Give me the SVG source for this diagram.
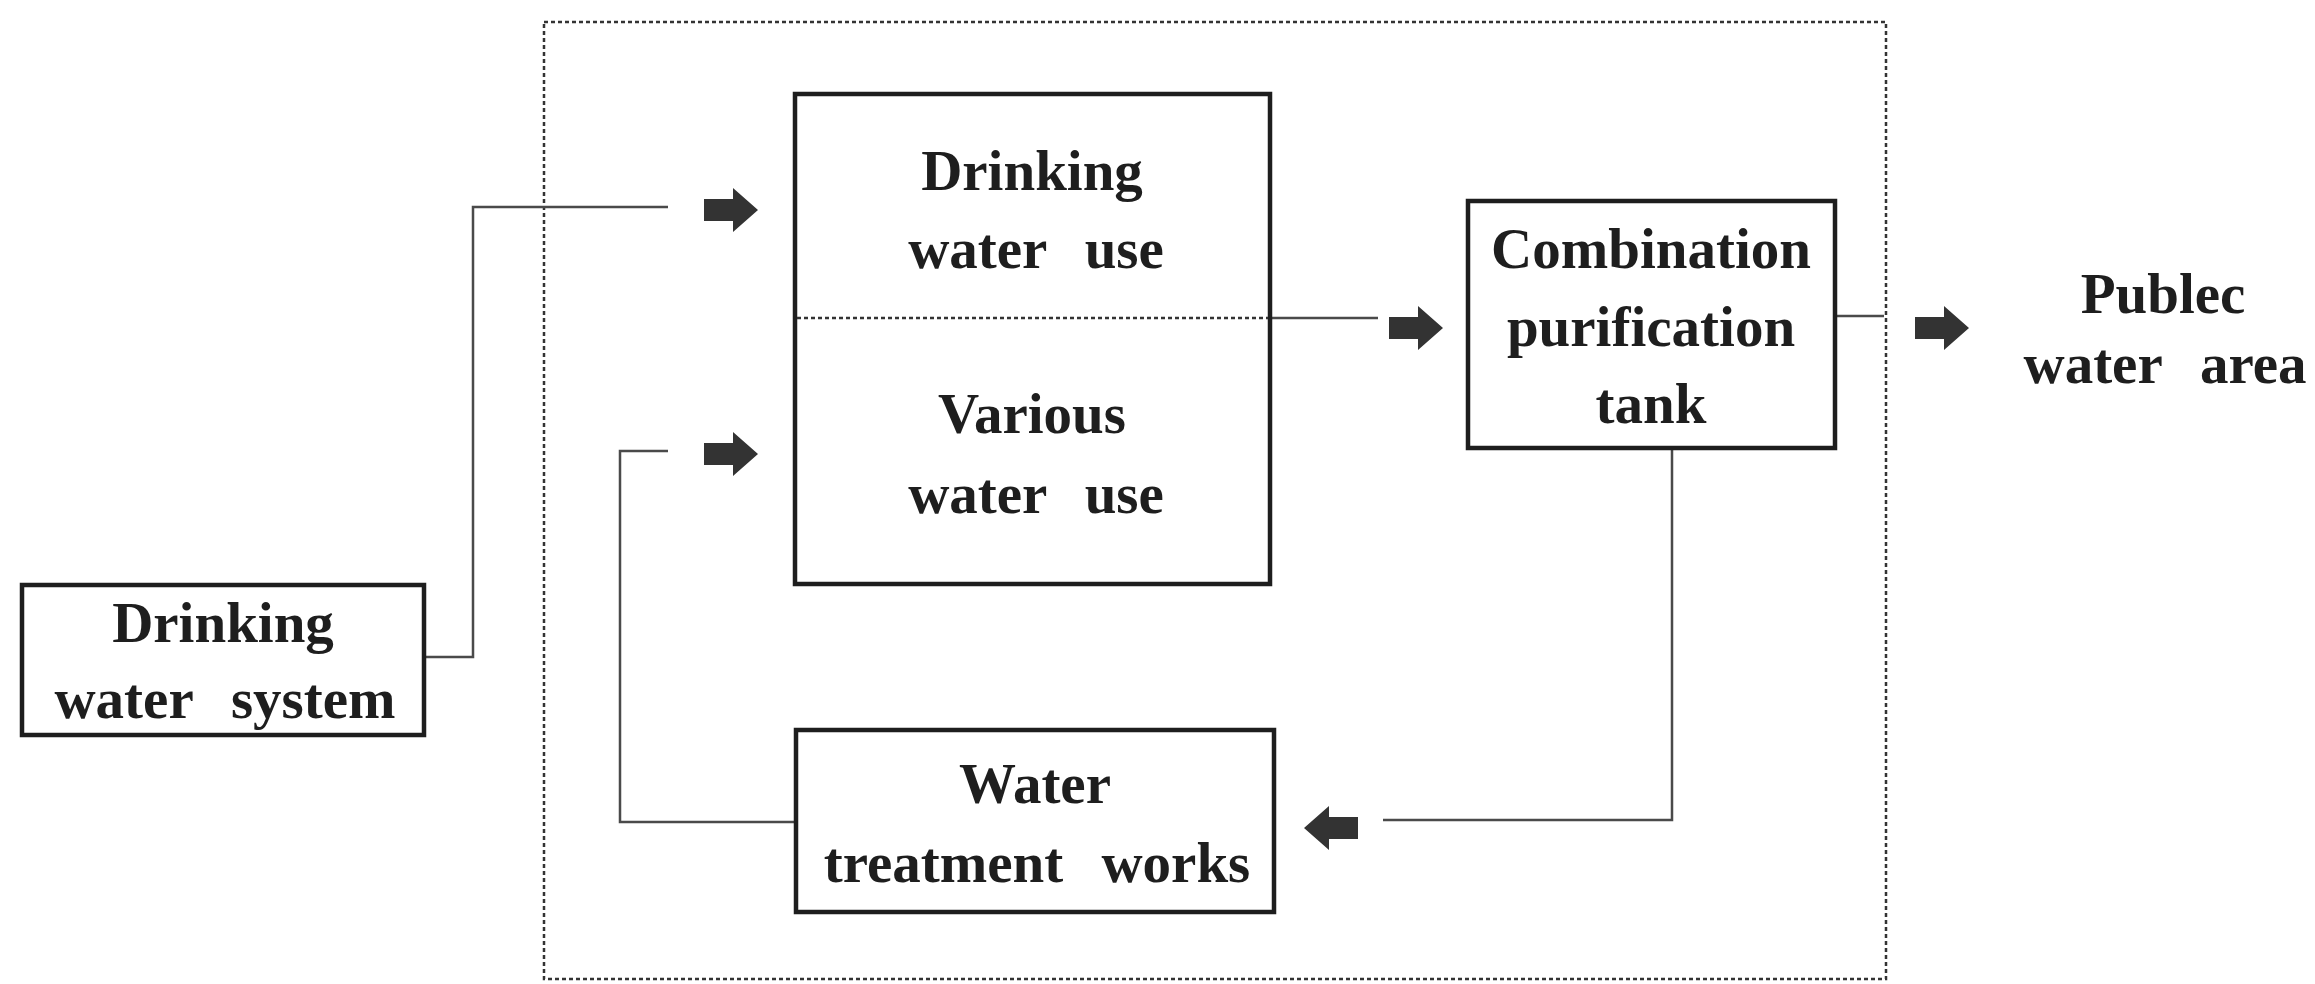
<svg xmlns="http://www.w3.org/2000/svg" width="2315" height="984" viewBox="0 0 2315 984">
<style>
.box{fill:#fff;stroke:#1e1e1e;stroke-width:4.5}
.t{font-family:"Liberation Serif","Times New Roman",serif;font-weight:bold;font-size:57px;fill:#1e1e1e;text-anchor:middle;word-spacing:24px}
.ln{fill:none;stroke:#4a4a4a;stroke-width:2.5}
.dot{fill:none;stroke:#333;stroke-width:2.5;stroke-dasharray:4 3}
.ar{fill:#333}
</style>
<defs>
<path id="arR" d="M0,-11 L29,-11 L29,-22 L54,0 L29,22 L29,11 L0,11 Z"/>
</defs>
<rect width="2315" height="984" fill="#fff"/>
<rect id="frame" class="dot" x="544" y="22" width="1342" height="957"/>

<g id="connectors">
<polyline class="ln" points="424,657 473,657 473,207 668,207"/>
<polyline class="ln" points="796,822 620,822 620,451 668,451"/>
<line class="ln" x1="1270" y1="318" x2="1378" y2="318"/>
<line class="ln" x1="1835" y1="316" x2="1884" y2="316"/>
<polyline class="ln" points="1672,448 1672,820 1383,820"/>
<use class="ar" href="#arR" x="704" y="210"/>
<use class="ar" href="#arR" x="704" y="454"/>
<use class="ar" href="#arR" x="1389" y="328"/>
<use class="ar" href="#arR" x="1915" y="328"/>
<use class="ar" href="#arR" transform="translate(1358,828) scale(-1,1)"/>
</g>

<g id="drinking-water-system">
<rect class="box" x="22" y="585" width="402" height="150"/>
<text class="t" x="223" y="642">Drinking</text>
<text class="t" x="225" y="718">water system</text>
</g>

<g id="water-use">
<rect class="box" x="795" y="94" width="475" height="490"/>
<line class="dot" x1="797" y1="318" x2="1268" y2="318"/>
<text class="t" x="1032" y="190">Drinking</text>
<text class="t" x="1036" y="268">water use</text>
<text class="t" x="1032" y="433">Various</text>
<text class="t" x="1036" y="513">water use</text>
</g>

<g id="combination-purification-tank">
<rect class="box" x="1468" y="201" width="367" height="247"/>
<text class="t" x="1651" y="268">Combination</text>
<text class="t" x="1651" y="346">purification</text>
<text class="t" x="1651" y="423">tank</text>
</g>

<g id="water-treatment-works">
<rect class="box" x="796" y="730" width="478" height="182"/>
<text class="t" x="1035" y="803">Water</text>
<text class="t" x="1037" y="882">treatment works</text>
</g>

<g id="public-water-area">
<text class="t" x="2163" y="313">Publec</text>
<text class="t" x="2165" y="383">water area</text>
</g>
</svg>
